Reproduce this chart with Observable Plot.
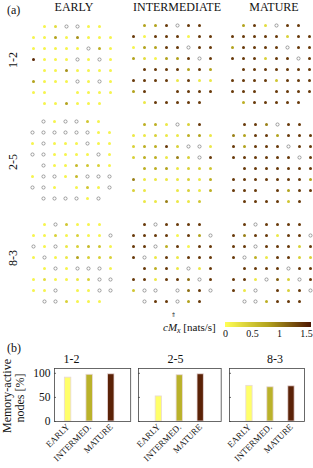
<!DOCTYPE html>
<html><head><meta charset="utf-8">
<script src="https://cdn.jsdelivr.net/npm/d3@7"></script>
<script src="https://cdn.jsdelivr.net/npm/@observablehq/plot@0.6"></script>
<style>
body{margin:0;background:#fff;}
#root{position:relative;width:313px;height:468px;overflow:hidden;font-family:"Liberation Serif","Times New Roman",serif;background:#fff;}
#root svg{position:absolute;}
[class^="cbar"] .tick line{display:none;}
[class^="cbar"] .domain{display:none;}
</style></head><body><div id="root"></div>
<script>
const N = null;
const stages = ["EARLY", "INTERMEDIATE", "MATURE"];
const stageShort = ["EARLY", "INTERMED.", "MATURE"];
const pairs = ["1-2", "2-5", "8-3"];

// cM_x values per electrode (8x8 MEA); 0 = not memory-active (open circle), null = no electrode
const early_1_2 = [
  [N, .1, .3, 0, 0, .1, .1, N],
  [.1, .1, .8, .1, .9, .1, .1, .1],
  [.1, .1, .1, .1, .1, 0, .7, .1],
  [1.5, .1, .1, .1, 0, .1, 0, .1],
  [N, .1, .1, .9, .1, .1, .1, .1],
  [.8, .1, .1, .1, 0, .1, 0, .1],
  [.1, .1, N, N, .1, .1, .1, .1],
  [N, .1, .1, .8, .1, .1, .1, N]
];
const inter_1_2 = [
  [N, .8, .8, 1.4, 0, 1.4, 1.4, N],
  [1.4, .1, 1.4, 1.4, 1.4, .1, 1.4, 1.4],
  [.1, .8, .8, 1.4, 1.4, 0, 1.4, 1.4],
  [.8, .3, .1, .8, .8, 1.4, 0, 1.4],
  [N, 1.4, 1.4, 1.4, 1.4, .8, 1.4, .8],
  [1.4, 1.4, 1.4, 1.4, .2, 1.4, .2, .2],
  [.8, 1.4, N, N, 1.4, 1.4, 1.4, 1.4],
  [N, .2, 1.4, 1.4, 1.4, 1.4, 1.4, N]
];
const mature_1_2 = [
  [N, .8, 1.4, .3, 0, 1.4, 1.4, N],
  [1.4, 1.4, 1.4, 1.4, 1.4, .4, 1.4, 1.4],
  [.8, 1.4, 1.4, 1.4, 1.4, 0, 1.4, 1.4],
  [1.4, 1.4, 1.4, .4, 1.4, 1.4, 0, 1.4],
  [N, 1.4, 1.4, 1.4, 1.4, 1.4, 1.4, 1.4],
  [1.4, 1.4, 1.4, 1.4, .5, 1.4, 1.4, 1.4],
  [1.4, 1.4, 1.4, N, 1.4, 1.4, 1.4, 1.4],
  [N, .7, 1.4, 1.4, 1.4, 1.4, 1.4, N]
];
const early_2_5 = [
  [N, 0, .1, 0, 0, .5, .1, N],
  [0, 0, 0, 0, 0, 0, .1, .1],
  [.1, 0, .1, .1, .1, 0, .1, .1],
  [0, 0, .1, .1, .1, .1, 0, .1],
  [N, 0, .1, .1, .6, .5, .4, .1],
  [.1, 0, 0, .1, .6, 0, 0, 0],
  [0, 0, .1, N, .1, .5, .1, 0],
  [N, 0, 0, 0, 0, .1, 0, N]
];
const inter_2_5 = [
  [N, .7, .7, .2, 0, .4, 1.4, N],
  [.2, .2, .4, .2, .2, .7, .8, .2],
  [.4, .7, .7, 1.4, .4, 0, 0, .2],
  [.4, .7, .7, .2, 1.0, .4, 0, 1.4],
  [N, .7, .7, .8, .2, .4, .4, .5],
  [1.0, .2, .2, .2, .2, .4, .2, .7],
  [.4, .2, N, N, .2, .4, .2, .7],
  [N, .2, .2, 1.0, .2, .2, .5, N]
];
const mature_2_5 = [
  [N, 1.4, 1.4, 1.0, 0, 1.4, 1.4, N],
  [1.0, .8, 1.4, 1.4, .8, 1.4, 1.4, 1.4],
  [1.4, .8, 1.4, 1.4, 1.4, 0, 1.4, 1.4],
  [1.4, 1.4, 1.4, 1.4, 1.4, 1.4, 0, 1.4],
  [N, 1.4, 1.4, 1.4, 1.4, 1.4, 1.4, 1.4],
  [1.4, 1.4, 1.4, 1.4, 1.4, 1.4, 1.4, .8],
  [1.4, 1.4, 1.4, N, 1.4, .8, 1.4, 1.4],
  [N, 1.4, 1.4, 1.4, 1.4, .5, 1.4, N]
];
const early_8_3 = [
  [N, .1, 0, .5, .1, .1, .1, N],
  [.1, .1, .4, .1, .4, .1, .1, 0],
  [0, .1, 0, .2, .4, .6, .5, .1],
  [.1, 0, .1, .2, .8, .4, .4, .4],
  [N, .1, 0, .1, 0, 0, 0, .1],
  [.1, .3, .1, .1, .2, .4, 0, 0],
  [.1, .1, 0, N, .1, .1, 0, 0],
  [N, 0, 0, .4, .1, .1, .1, N]
];
const inter_8_3 = [
  [N, 1.4, 0, 1.4, 1.4, 1.4, 1.4, N],
  [1.4, 1.4, 1.4, 1.4, .1, 1.4, .8, 0],
  [1.4, 1.4, 0, .7, 1.4, .1, 1.4, 1.4],
  [1.4, 0, .2, 1.4, .2, 1.4, 1.4, 1.4],
  [N, 1.4, .7, 1.4, .2, 0, .2, 1.4],
  [1.4, 1.4, .2, 1.4, 1.4, 1.1, 0, 1.4],
  [.5, 0, 0, N, 0, 1.1, 1.4, 0],
  [N, 0, 1.4, 1.4, 0, .8, 1.4, N]
];
const mature_8_3 = [
  [N, 1.4, 0, 1.4, 1.4, 1.4, 1.4, N],
  [1.4, 1.0, 1.4, 1.4, .2, 1.4, 1.4, 0],
  [1.4, 1.4, 0, 1.4, 1.4, 1.4, .4, 1.4],
  [1.4, 0, .7, .2, 1.4, 1.4, .4, .4],
  [N, 1.4, 1.4, 1.4, 1.4, 0, 1.4, 1.4],
  [1.4, 1.4, .2, 0, 1.2, .4, 0, 1.4],
  [1.4, .2, 0, N, 1.4, .4, 1.4, 0],
  [N, 0, 0, .7, 1.4, 1.4, 1.4, N]
];

// memory-active nodes [%] per pair, for EARLY / INTERMED. / MATURE
const active_1_2 = [91, 97, 98];
const active_2_5 = [52, 96, 98];
const active_8_3 = [74, 71, 73];
const yTicks = [0, 50, 100];
const cbarTicks = [0, 0.5, 1, 1.5];

// ---- styles / layout ----
const colorDomain = [0, 0.8, 1.6];
const colorRange = ["#ffff55", "#b3a31d", "#4f1703"];
const barColors = ["#ffff6a", "#bab22a", "#5b2207"];
const FONT = "Liberation Serif";
const root = document.getElementById("root");

function place(el, left, top) {
  el.style.left = left + "px";
  el.style.top = top + "px";
  root.appendChild(el);
}

const PAD = 6;
function dotPanel(grid, col1X, row1Y) {
  const data = [];
  grid.forEach((row, r) => row.forEach((v, c) => {
    if (v !== null) data.push({row: r + 1, col: c + 1, v});
  }));
  const svg = Plot.plot({
    width: 77 + 2 * PAD, height: 77 + 2 * PAD, margin: 0,
    style: {background: "transparent", overflow: "visible"},
    x: {domain: [1, 8], range: [PAD, PAD + 77], axis: null},
    y: {domain: [1, 8], range: [PAD, PAD + 77], axis: null},
    color: {type: "linear", domain: colorDomain, range: colorRange},
    marks: [
      Plot.dot(data.filter(d => d.v > 0), {x: "col", y: "row", r: 1.5, fill: "v", stroke: null}),
      Plot.dot(data.filter(d => d.v === 0), {x: "col", y: "row", r: 1.6, fill: "white", stroke: "#7a7a7a", strokeWidth: 0.7})
    ]
  });
  place(svg, col1X - PAD, row1Y - PAD);
}

const grids = [
  [early_1_2, inter_1_2, mature_1_2],
  [early_2_5, inter_2_5, mature_2_5],
  [early_8_3, inter_8_3, mature_8_3]
];
const colX = [[33.3, 133.3, 232.3], [31.7, 132.7, 233.3], [33.3, 132.7, 233.3]];
const rowY = [[25.7, 25, 25], [121, 124, 124], [224, 224, 224]];
grids.forEach((row, i) => row.forEach((g, j) => dotPanel(g, colX[i][j], rowY[i][j])));

// colour bar
const cbar = Plot.legend({
  color: {type: "linear", domain: colorDomain, range: colorRange},
  width: 96, height: 5 + 2 + 14, marginTop: 2, marginBottom: 14, marginLeft: 5, marginRight: 5,
  ticks: cbarTicks, tickFormat: d => String(d), tickSize: 0, label: null, className: "cbar",
  style: {fontFamily: FONT, fontSize: "10px", background: "transparent", color: "#111"}
});
place(cbar, 225 - 5, 322 - 2);

// bar panels
function barPanel(vals, frameL, frameR, xdom, showY) {
  const ml = 40, mr = 6, mt = 2, mb = 47, fh = 53;
  const rows = vals.map((v, i) => ({i: i + 1, stage: stageShort[i], value: v}));
  const tickLen = (xdom[1] - xdom[0]) * 2 / (frameR - frameL);
  const svg = Plot.plot({
    width: ml + (frameR - frameL) + mr, height: mt + fh + mb,
    marginLeft: ml, marginRight: mr, marginTop: mt, marginBottom: mb,
    style: {background: "transparent", overflow: "visible", fontFamily: FONT, fontSize: "11px", color: "#111"},
    x: {domain: xdom},
    y: {domain: [0, 110]},
    color: {domain: stageShort, range: barColors},
    marks: [
      Plot.rectY(rows, {x1: d => d.i - 0.15, x2: d => d.i + 0.15, y: "value", fill: "stage", stroke: "#e8d8d8", strokeWidth: 0.8}),
      Plot.ruleY(yTicks, {y: d => d, x1: xdom[0], x2: xdom[0] + tickLen, stroke: "#444", strokeWidth: 0.8}),
      Plot.frame({stroke: "#444", strokeWidth: 0.8}),
      Plot.axisX({ticks: [1, 2, 3], tickFormat: i => stageShort[i - 1], tickRotate: -45, tickSize: 0, tickPadding: 4, fontSize: 9, label: null}),
      showY
        ? Plot.axisY({ticks: yTicks, tickSize: 0, tickPadding: 4, fontSize: 11.5, label: null})
        : Plot.axisY({ticks: yTicks, tickSize: 0, tickFormat: () => "", label: null})
    ]
  });
  place(svg, frameL - ml, 368 - mt);
}
barPanel(active_1_2, 54.3, 130.5, [0.37, 3.9], true);
barPanel(active_2_5, 138.3, 221, [0.03, 3.98], false);
barPanel(active_8_3, 229, 304, [0.05, 3.62], false);

// annotations
const ann = d3.create("svg").attr("width", 313).attr("height", 468)
  .style("left", "0px").style("top", "0px").style("pointer-events", "none")
  .attr("font-family", FONT).attr("fill", "#111");
function t(x, y, s, size, anchor = "middle", rot = 0) {
  const e = ann.append("text").attr("x", x).attr("y", y).attr("font-size", size).attr("text-anchor", anchor).text(s);
  if (rot) e.attr("transform", `rotate(${rot},${x},${y})`);
  return e;
}
t(7, 14, "(a)", 12, "start");
[74, 177, 274].forEach((x, i) => t(x, 11, stages[i], 12));
[60, 162, 258].forEach((y, i) => t(17, y, pairs[i], 12, "middle", -90));
t(7, 352, "(b)", 12, "start");
[71.5, 175.5, 275].forEach((x, i) => t(x, 363, pairs[i], 12));
t(11, 396, "Memory-active", 12, "middle", -90);
t(24, 398, "nodes [%]", 12, "middle", -90);
// colour-bar label
const lab = ann.append("text").attr("x", 163).attr("y", 331).attr("font-size", 11);
lab.append("tspan").attr("font-style", "italic").text("cM");
lab.append("tspan").attr("font-style", "italic").attr("font-size", 8).attr("dy", 2).text("x");
lab.append("tspan").attr("dy", -2).text(" [nats/s]");
t(173, 317, "\u21D1", 6);
root.appendChild(ann.node());
</script>
</body></html>
